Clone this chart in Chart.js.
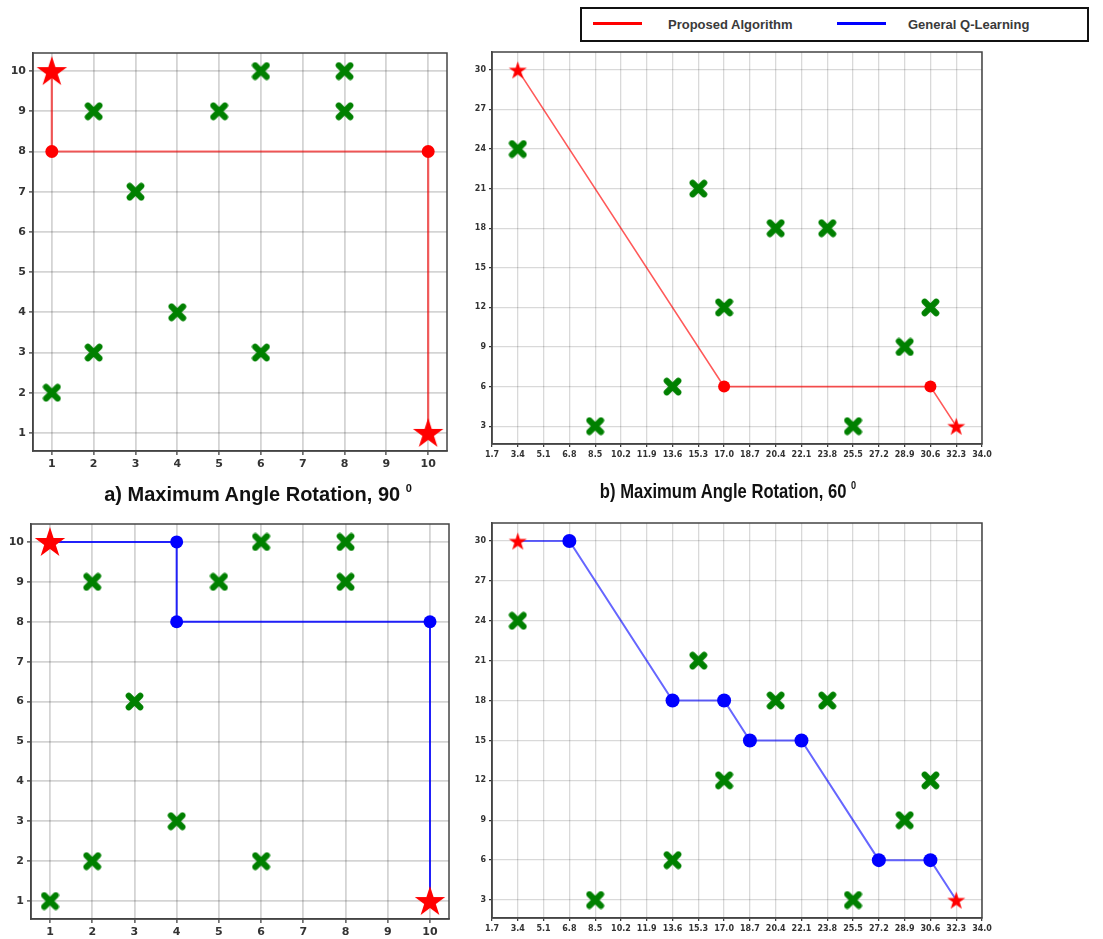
<!DOCTYPE html>
<html>
<head>
<meta charset="utf-8">
<script src="https://cdn.jsdelivr.net/npm/chart.js@4"></script>
<style>
  body { margin: 0; background: #fff; width: 1103px; height: 939px; position: relative; overflow: hidden; font-family: "Liberation Sans", Arial, sans-serif; }
  canvas { position: absolute; }
  #legend { position: absolute; left: 580px; top: 7px; width: 509px; height: 35px; border: 2px solid #111; box-sizing: border-box; }
  #legend .sw { position: absolute; top: 13px; height: 3px; width: 49px; }
  #legend .lbl { position: absolute; top: 0; line-height: 31px; font-size: 13px; font-weight: bold; color: #3a3a3a; }
  .title { position: absolute; width: 400px; text-align: center; font-size: 20px; line-height: 20px; font-weight: bold; color: #111; }
  .title sup { font-size: 11px; vertical-align: 9px; line-height: 0; }
</style>
</head>
<body>
<div id="legend">
  <span class="sw" style="left:11px;background:#ff0000"></span>
  <span class="lbl" style="left:86px">Proposed Algorithm</span>
  <span class="sw" style="left:255px;background:#0000ff"></span>
  <span class="lbl" style="left:326px">General Q-Learning</span>
</div>
<canvas id="c1" width="460" height="470" style="left:0;top:0"></canvas>
<canvas id="c2" width="643" height="470" style="left:460px;top:0"></canvas>
<canvas id="c3" width="460" height="469" style="left:0;top:470px"></canvas>
<canvas id="c4" width="643" height="469" style="left:460px;top:470px"></canvas>
<div class="title" style="left:58px;top:484px">a) Maximum Angle Rotation, 90 <sup>0</sup></div>
<div class="title" style="left:528px;top:481px;transform:scaleX(0.83)">b) Maximum Angle Rotation, 60 <sup>0</sup></div>

<script>
// ---- 10x10 grid (90 deg) ----
const xTicksA = [1, 2, 3, 4, 5, 6, 7, 8, 9, 10];
const yTicksA = [1, 2, 3, 4, 5, 6, 7, 8, 9, 10];
const endsAX = [1, 10];
const endsAY = [10, 1];

// proposed algorithm, 90 deg
const obst1X = [1, 2, 4, 6, 3, 2, 5, 8, 6, 8];
const obst1Y = [2, 3, 4, 3, 7, 9, 9, 9, 10, 10];
const path1X = [1, 1, 10, 10];
const path1Y = [10, 8, 8, 1];

// general Q-learning, 90 deg
const obst3X = [1, 2, 6, 4, 3, 2, 5, 8, 6, 8];
const obst3Y = [1, 2, 2, 3, 6, 9, 9, 9, 10, 10];
const path3X = [1, 4, 4, 10, 10];
const path3Y = [10, 10, 8, 8, 1];

// ---- 60 deg grid ----
const xTicksB = [1.7, 3.4, 5.1, 6.8, 8.5, 10.2, 11.9, 13.6, 15.3, 17.0, 18.7, 20.4, 22.1, 23.8, 25.5, 27.2, 28.9, 30.6, 32.3, 34.0];
const yTicksB = [3, 6, 9, 12, 15, 18, 21, 24, 27, 30];
const endsBX = [3.4, 32.3];
const endsBY = [30, 3];
const obstBX = [3.4, 15.3, 20.4, 23.8, 17.0, 30.6, 28.9, 13.6, 8.5, 25.5];
const obstBY = [24, 21, 18, 18, 12, 12, 9, 6, 3, 3];

// proposed algorithm, 60 deg
const path2X = [3.4, 17.0, 30.6, 32.3];
const path2Y = [30, 6, 6, 3];

// general Q-learning, 60 deg
const path4X = [3.4, 6.8, 13.6, 17.0, 18.7, 22.1, 27.2, 30.6, 32.3];
const path4Y = [30, 30, 18, 18, 15, 15, 6, 6, 3];

function pts(xs, ys) {
  return xs.map((x, i) => ({ x: x, y: ys[i] }));
}

function starImg(R) {
  const s = Math.ceil(R * 2) + 2;
  const c = document.createElement("canvas");
  c.width = s; c.height = s;
  const ctx = c.getContext("2d");
  ctx.beginPath();
  for (let i = 0; i < 10; i++) {
    const ang = -Math.PI / 2 + i * Math.PI / 5;
    const r = i % 2 ? R * 0.382 : R;
    ctx.lineTo(s / 2 + r * Math.cos(ang), s / 2 + 1 + r * Math.sin(ang));
  }
  ctx.closePath();
  ctx.fillStyle = "#ff0000";
  ctx.fill();
  return c;
}

function crossImg(L) {
  const s = Math.ceil(L) + 2;
  const c = document.createElement("canvas");
  c.width = s; c.height = s;
  const ctx = c.getContext("2d");
  const h = L * 0.34;
  ctx.strokeStyle = "#008000";
  ctx.lineWidth = L * 0.36;
  ctx.lineCap = "round";
  ctx.beginPath();
  ctx.moveTo(s / 2 - h, s / 2 - h); ctx.lineTo(s / 2 + h, s / 2 + h);
  ctx.moveTo(s / 2 + h, s / 2 - h); ctx.lineTo(s / 2 - h, s / 2 + h);
  ctx.stroke();
  return c;
}

const framePlugin = {
  id: "frame",
  beforeDatasetsDraw(chart) {
    const a = chart.chartArea, ctx = chart.ctx;
    ctx.save();
    ctx.strokeStyle = "#444";
    ctx.lineWidth = 1.5;
    ctx.strokeRect(a.left, a.top, a.right - a.left, a.bottom - a.top);
    ctx.restore();
  }
};

function makeChart(id, c) {
  const canvas = document.getElementById(id);
  const W = canvas.width, H = canvas.height;
  const radii = c.pathX.map((v, i) => (i === 0 || i === c.pathX.length - 1) ? 0 : c.dotR);
  const tickFont = { family: "DejaVu Sans", size: c.fontSize, weight: "bold" };
  new Chart(canvas, {
    type: "scatter",
    data: {
      datasets: [
        { data: pts(c.endsX, c.endsY), pointStyle: starImg(c.starR), pointRadius: 5, order: 0 },
        {
          type: "line", data: pts(c.pathX, c.pathY), showLine: true, fill: false, tension: 0,
          borderColor: c.lineColor, borderWidth: c.lineWidth,
          pointRadius: radii, pointBackgroundColor: c.dotColor, pointBorderWidth: 0, order: 1
        },
        { data: pts(c.obstX, c.obstY), pointStyle: crossImg(c.crossL), pointRadius: 5, order: 2 }
      ]
    },
    options: {
      responsive: false,
      animation: false,
      devicePixelRatio: 1,
      events: [],
      clip: false,
      layout: { padding: { left: 0, top: c.area.top, right: W - c.area.right, bottom: 0 } },
      plugins: { legend: { display: false }, tooltip: { enabled: false } },
      scales: {
        x: {
          type: "linear", min: c.xMin, max: c.xMax,
          afterBuildTicks: s => { s.ticks = c.xTicks.map(v => ({ value: v })); },
          afterFit: s => { s.height = H - c.area.bottom; },
          ticks: { autoSkip: false, maxRotation: 0, padding: c.pad, font: tickFont, color: "#333", callback: c.xFmt },
          grid: { color: c.gridColor, lineWidth: c.gridW, tickLength: c.tickLen, tickColor: "#333", tickWidth: 1.2 },
          border: { display: true, color: "#444", width: 1.5 }
        },
        y: {
          type: "linear", min: c.yMin, max: c.yMax,
          afterBuildTicks: s => { s.ticks = c.yTicks.map(v => ({ value: v })); },
          afterFit: s => { s.width = c.area.left; },
          ticks: { autoSkip: false, padding: c.pad, font: tickFont, color: "#333", callback: v => String(v) },
          grid: { color: c.gridColor, lineWidth: c.gridW, tickLength: c.tickLen, tickColor: "#333", tickWidth: 1.2 },
          border: { display: true, color: "#444", width: 1.5 }
        }
      }
    },
    plugins: [framePlugin]
  });
}

const smallA = {
  xTicks: xTicksA, yTicks: yTicksA, xMin: 0.55, xMax: 10.45, yMin: 0.55, yMax: 10.45,
  endsX: endsAX, endsY: endsAY, starR: 16, crossL: 17, dotR: 6.5,
  fontSize: 11, pad: 3, tickLen: 4, gridColor: "rgba(0,0,0,0.17)", gridW: 1.8,
  xFmt: v => String(v)
};
const bigB = {
  xTicks: xTicksB, yTicks: yTicksB, xMin: 1.7, xMax: 34.0, yMin: 1.65, yMax: 31.35,
  endsX: endsBX, endsY: endsBY, obstX: obstBX, obstY: obstBY, starR: 9.5, crossL: 17,
  fontSize: 8, pad: 3, tickLen: 3, gridColor: "rgba(0,0,0,0.15)", gridW: 1.3,
  xFmt: v => v.toFixed(1)
};

makeChart("c1", Object.assign({}, smallA, {
  area: { left: 33, top: 53, right: 447, bottom: 451 },
  obstX: obst1X, obstY: obst1Y, pathX: path1X, pathY: path1Y,
  lineColor: "rgba(255,0,0,0.6)", lineWidth: 2.2, dotColor: "#ff0000"
}));
makeChart("c2", Object.assign({}, bigB, {
  area: { left: 32, top: 52, right: 522, bottom: 444 },
  pathX: path2X, pathY: path2Y, dotR: 6,
  lineColor: "rgba(255,0,0,0.65)", lineWidth: 1.6, dotColor: "#ff0000"
}));
makeChart("c3", Object.assign({}, smallA, {
  area: { left: 31, top: 54, right: 449, bottom: 449 },
  obstX: obst3X, obstY: obst3Y, pathX: path3X, pathY: path3Y,
  lineColor: "rgba(0,0,255,0.85)", lineWidth: 2, dotColor: "#0000ff"
}));
makeChart("c4", Object.assign({}, bigB, {
  area: { left: 32, top: 53, right: 522, bottom: 448 },
  pathX: path4X, pathY: path4Y, dotR: 7,
  lineColor: "rgba(0,0,255,0.6)", lineWidth: 2, dotColor: "#0000ff"
}));
</script>
</body>
</html>
